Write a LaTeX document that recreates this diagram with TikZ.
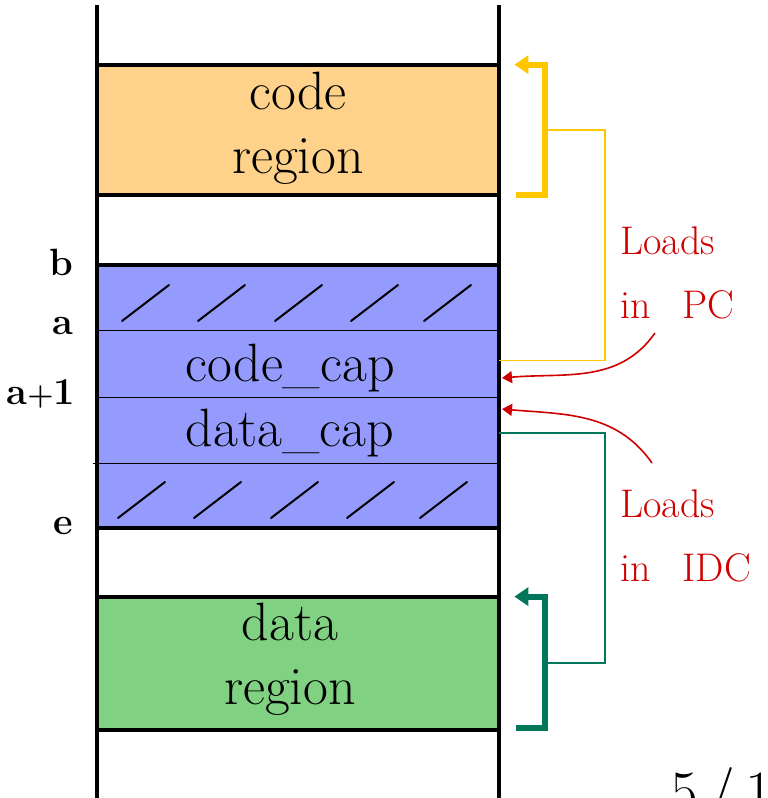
\documentclass[tikz,border=0pt]{standalone}
\usetikzlibrary{arrows.meta}
\definecolor{codeorange}{HTML}{FED28B}
\definecolor{capblue}{HTML}{949BFD}
\definecolor{datagreen}{HTML}{80D181}
\definecolor{pcyellow}{HTML}{FFC700}
\definecolor{idcgreen}{HTML}{00775A}
\definecolor{loadred}{HTML}{D00000}
\begin{document}
\begin{tikzpicture}[x=0.5pt, y=-0.5pt,
  wall/.style={line width=2pt},
  band/.style={rectangle, inner sep=0pt, minimum width=201pt},
  rowline/.style={line width=0.8pt},
  hatch/.style={line width=1pt, line cap=round},
  big/.style={font=\fontsize{27}{32}\selectfont, align=center},
  tag/.style={font=\fontsize{19}{24}\selectfont\bfseries, anchor=east},
  note/.style={text=loadred, font=\fontsize{20}{32}\selectfont, align=left, anchor=north west, inner sep=0pt},
  jump/.style={line width=3pt, -{Triangle[length=7pt,width=9pt]}},
  link/.style={line width=0.8pt},
  load/.style={loadred, line width=0.8pt, -{Triangle[length=5pt,width=6pt]}}]
\useasboundingbox (0,0) rectangle (767,798);

% Memory bands
\node[band, fill=codeorange, minimum height=65pt] (code) at (298,130) {};
\node[band, fill=capblue, minimum height=33pt] (padtop) at (298,298) {};
\node[band, fill=capblue, minimum height=33.5pt] (codecap) at (298,364.5) {};
\node[band, fill=capblue, minimum height=33pt] (datacap) at (298,431) {};
\node[band, fill=capblue, minimum height=32pt] (padbot) at (298,496) {};
\node[band, fill=datagreen, minimum height=66.5pt] (data) at (298,663.5) {};

% Unused slots
\foreach \x in {122,198,275,351,424}
  \draw[hatch] (\x,321) -- ++(47,-36);
\foreach \x in {118,194,271,347,420}
  \draw[hatch] (\x,518) -- ++(47,-36);

% Band borders
\draw[rowline] (codecap.north west) -- (codecap.north east)
  (datacap.north west) -- (datacap.north east)
  ([xshift=-2pt]padbot.north west) -- (padbot.north east);
\draw[wall] (code.north west) -- (code.north east) (code.south west) -- (code.south east);
\draw[wall] (padtop.north west) -- (padtop.north east) (padbot.south west) -- (padbot.south east);
\draw[wall] (data.north west) -- (data.north east) (data.south west) -- (data.south east);

% Memory walls
\draw[wall] (97,5) -- (97,800);
\draw[wall] (499,5) -- (499,800);

% Texts in the bands
\node[big] (codetxt) at ([yshift=1pt]code) {code\\region};
\node[big] (codecaptxt) at ([xshift=-4pt,yshift=-2pt]codecap) {code\_cap};
\node[big] (datacaptxt) at ([xshift=-4pt,yshift=-1pt]datacap) {data\_cap};
\node[big] (datatxt) at ([xshift=-4pt,yshift=2pt]data) {data\\region};

% Addresses
\node[tag] (blbl) at (80,262) {b};
\node[tag] (albl) at (80,326) {a};
\node[tag] (a1lbl) at (82,394) {a{\fontsize{15}{15}\selectfont+}1};
\node[tag] (elbl) at (80,526) {e};

% Jumps into the regions
\draw[jump, pcyellow] ([xshift=8.5pt]code.south east) -- ++(14.5pt,0) |- ([xshift=7.5pt]code.north east);
\draw[link, pcyellow] ([yshift=2pt]codecap.east) -| (605,130) -- (545,130);
\draw[jump, idcgreen] ([xshift=8.5pt,yshift=1pt]data.south east) -- ++(14.5pt,0) |- ([xshift=7.5pt]data.north east);
\draw[link, idcgreen] ([yshift=-1pt]datacap.east) -| (605,663) -- (545,663);

% Notes
\node[note] (pcnote) at (620,226) {Loads\\in\hspace{0.8em}PC};
\node[note] (idcnote) at (620,489) {Loads\\in\hspace{0.8em}IDC};
\coordinate (pcfrom) at (655,333);
\coordinate (pcin) at (502,378);
\coordinate (idcfrom) at (652,463);
\coordinate (idcin) at (502,409);
\draw[load] (pcfrom) to[out=235, in=5] (pcin);
\draw[load] (idcfrom) to[out=125, in=-5] (idcin);

% Page number, cut by the edge
\node[font=\fontsize{30}{36}\selectfont, anchor=base west, inner sep=0pt] (pageno) at (670,812) {5\,/\,1};
\end{tikzpicture}
\end{document}
